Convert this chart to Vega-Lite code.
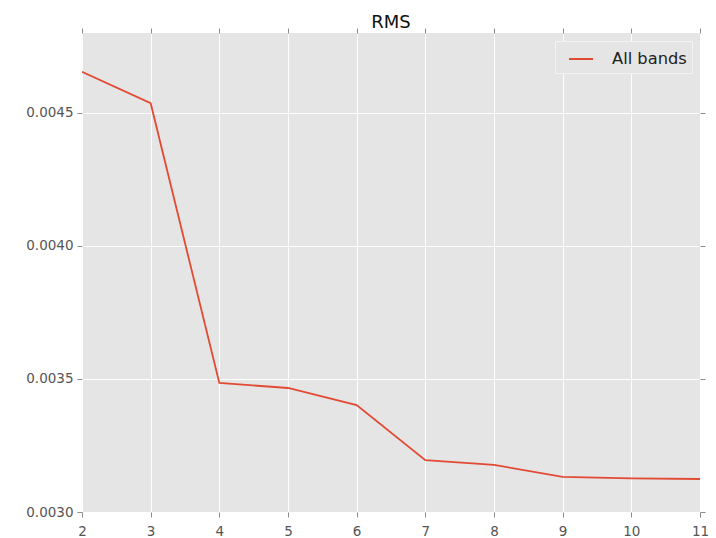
{
  "$schema": "https://vega.github.io/schema/vega-lite/v6.json",
  "width": 618,
  "height": 479,
  "autosize": {"type": "none"},
  "padding": {"left": 82, "top": 33, "right": 16, "bottom": 26},
  "background": "white",
  "config": {
    "font": "DejaVu Sans",
    "view": {"fill": "#E5E5E5", "stroke": null},
    "axis": {
      "grid": true,
      "gridColor": "white",
      "gridWidth": 1,
      "domain": false,
      "tickColor": "#8C8C8C",
      "tickSize": 5,
      "tickWidth": 1,
      "labelColor": "#555555",
      "labelFontSize": 13.5,
      "labelFont": "DejaVu Sans",
      "title": null
    },
    "title": {"font": "DejaVu Sans", "fontSize": 18, "fontWeight": "normal", "color": "#111111", "offset": -4}
  },
  "title": "RMS",
  "data": {
    "values": [
      {"k": 2, "rms": 0.004654, "series": "All bands"},
      {"k": 3, "rms": 0.004536, "series": "All bands"},
      {"k": 4, "rms": 0.003485, "series": "All bands"},
      {"k": 5, "rms": 0.003466, "series": "All bands"},
      {"k": 6, "rms": 0.003402, "series": "All bands"},
      {"k": 7, "rms": 0.003195, "series": "All bands"},
      {"k": 8, "rms": 0.003177, "series": "All bands"},
      {"k": 9, "rms": 0.003132, "series": "All bands"},
      {"k": 10, "rms": 0.003126, "series": "All bands"},
      {"k": 11, "rms": 0.003124, "series": "All bands"}
    ]
  },
  "layer": [
    {
      "mark": {"type": "line", "strokeWidth": 1.8, "clip": true},
      "encoding": {
        "x": {
          "field": "k", "type": "quantitative",
          "scale": {"domain": [2, 11], "nice": false, "zero": false},
          "axis": {"orient": "bottom", "values": [2, 3, 4, 5, 6, 7, 8, 9, 10, 11], "labelPadding": 7, "labelFlush": false}
        },
        "y": {
          "field": "rms", "type": "quantitative",
          "scale": {"domain": [0.003, 0.0048], "nice": false, "zero": false},
          "axis": {"orient": "left", "values": [0.003, 0.0035, 0.004, 0.0045], "format": ".4f", "labelPadding": 4, "labelFlush": false}
        },
        "color": {
          "field": "series", "type": "nominal",
          "scale": {"range": ["#E24A33"]},
          "legend": {
            "title": null,
            "orient": "none",
            "legendX": 473,
            "legendY": 8,
            "fillColor": "#E5E5E5",
            "strokeColor": "#F2F2F2",
            "padding": 5,
            "symbolType": "stroke",
            "symbolSize": 576,
            "symbolOffset": 8,
            "symbolStrokeWidth": 2,
            "labelFontSize": 16.3,
            "labelColor": "#222222",
            "labelFont": "DejaVu Sans",
            "labelOffset": 18
          }
        }
      }
    },
    {
      "mark": {"type": "line", "opacity": 0},
      "encoding": {
        "x": {
          "field": "k", "type": "quantitative",
          "axis": {"orient": "top", "values": [2, 3, 4, 5, 6, 7, 8, 9, 10, 11], "labels": false, "grid": false}
        },
        "y": {
          "field": "rms", "type": "quantitative",
          "axis": {"orient": "right", "values": [0.003, 0.0035, 0.004, 0.0045], "labels": false, "grid": false}
        }
      }
    }
  ]
}
